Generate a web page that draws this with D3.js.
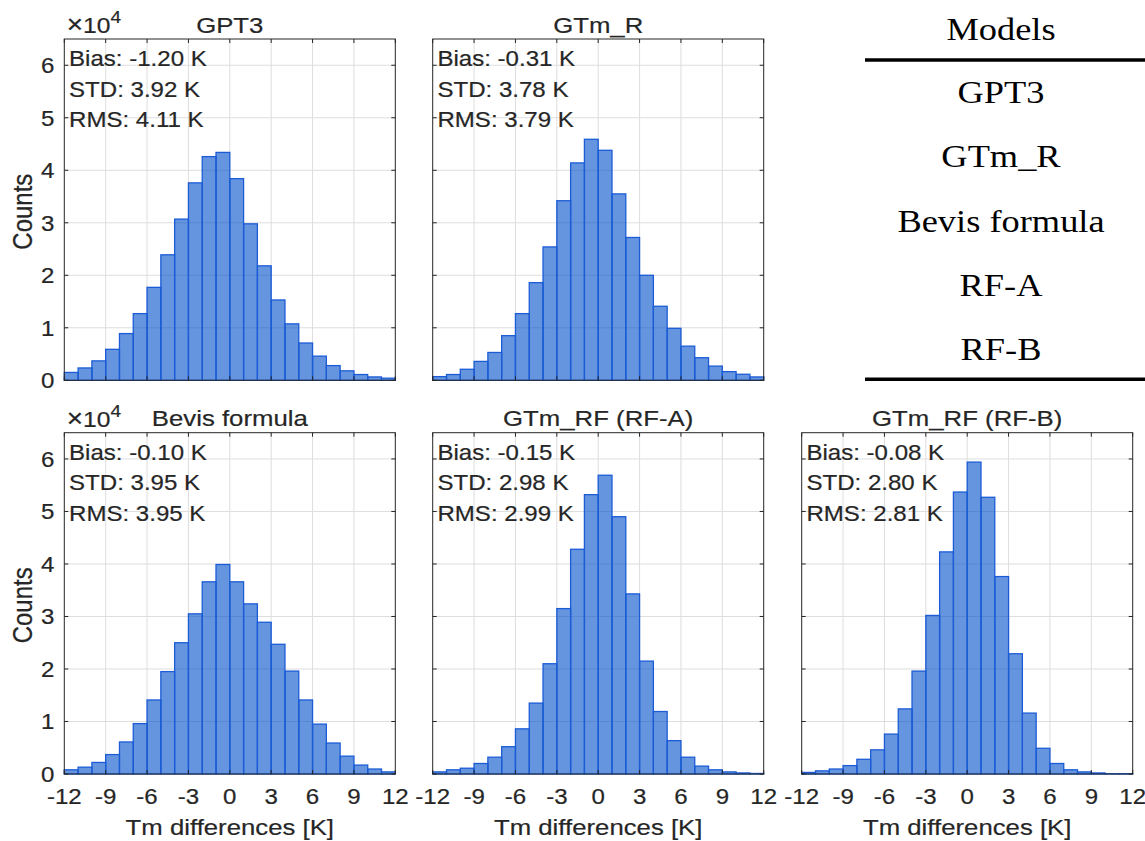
<!DOCTYPE html>
<html><head><meta charset="utf-8">
<script src="https://cdn.jsdelivr.net/npm/d3@7"></script>
<style>body{margin:0;background:#fff} svg{display:block}</style>
</head><body>
<svg id="c" width="1145" height="841"></svg>
<script>
// ---- data (counts in units of 10^4) ----
const binStarts = [-12,-11,-10,-9,-8,-7,-6,-5,-4,-3,-2,-1,0,1,2,3,4,5,6,7,8,9,10,11];
const binWidth = 1;
const xTicks = [-12,-9,-6,-3,0,3,6,9,12];
const xTickLabels = ["-12","-9","-6","-3","0","3","6","9","12"];
const yTicks = [0,1,2,3,4,5,6];
const yTickLabels = ["0","1","2","3","4","5","6"];
const titles = ["GPT3","GTm_R","Bevis formula","GTm_RF (RF-A)","GTm_RF (RF-B)"];
const gpt3  = [0.15,0.235,0.37,0.59,0.89,1.27,1.77,2.39,3.07,3.76,4.26,4.34,3.84,2.98,2.18,1.53,1.075,0.71,0.46,0.28,0.18,0.11,0.064,0.04];
const gtmR  = [0.07,0.11,0.21,0.36,0.53,0.85,1.27,1.86,2.54,3.42,4.14,4.59,4.38,3.55,2.72,2.00,1.41,0.99,0.65,0.43,0.27,0.165,0.115,0.064];
const bevis = [0.08,0.13,0.22,0.37,0.61,0.96,1.41,1.95,2.50,3.05,3.66,3.99,3.66,3.24,2.89,2.47,1.96,1.41,0.95,0.59,0.34,0.17,0.095,0.04];
const rfA   = [0.04,0.08,0.11,0.20,0.32,0.52,0.86,1.35,2.10,3.15,4.28,5.32,5.69,4.90,3.43,2.15,1.19,0.635,0.32,0.15,0.08,0.04,0.02,0.01];
const rfB   = [0.03,0.06,0.095,0.16,0.28,0.46,0.76,1.24,1.96,3.02,4.23,5.37,5.94,5.27,3.76,2.29,1.16,0.49,0.20,0.08,0.04,0.02,0.006,0.006];
const biasVals = ["-1.20","-0.31","-0.10","-0.15","-0.08"];
const stdVals  = ["3.92","3.78","3.95","2.98","2.80"];
const rmsVals  = ["4.11","3.79","3.95","2.99","2.81"];
const tableHeader = "Models";
const tableRows = ["GPT3","GTm_R","Bevis formula","RF-A","RF-B"];

// ---- layout ----
const SX = 1.12;
const SANS = "'Liberation Sans', Arial, Helvetica, sans-serif";
const SERIF = "'Liberation Serif', 'Times New Roman', serif";
const colLeft = [64.3, 432.7, 801.7];
const rowTop = [39, 432.7];
const PW = 331, PH = 341.3;
const panels = [
  {data: gpt3,  col: 0, row: 0},
  {data: gtmR,  col: 1, row: 0},
  {data: bevis, col: 0, row: 1},
  {data: rfA,   col: 1, row: 1},
  {data: rfB,   col: 2, row: 1}
];
const svg = d3.select("#c");

function txt(g, x, y, str, size, anchor, family, extra) {
  const serif = family === SERIF;
  const col = serif ? "#000" : "#262626";
  const t = g.append("text")
    .attr("transform", `translate(${x},${y}) scale(${SX},1)` + (extra || ""))
    .attr("text-anchor", anchor)
    .style("font-family", family || SANS)
    .style("font-size", size + "px")
    .attr("fill", col)
    .text(str);
  if (!serif) t.attr("stroke", col).attr("stroke-width", 0.2);
  return t;
}

panels.forEach((p, i) => {
  const L = colLeft[p.col], T = rowTop[p.row];
  const x = d3.scaleLinear().domain([-12, 12]).range([L, L + PW]);
  const y = d3.scaleLinear().domain([0, 6.5]).range([T + PH, T]);
  const g = svg.append("g");

  // grid
  g.selectAll(".gx").data(xTicks.slice(1, -1)).join("line")
    .attr("x1", d => x(d)).attr("x2", d => x(d)).attr("y1", T).attr("y2", T + PH)
    .attr("stroke", "#dedede").attr("stroke-width", 1);
  g.selectAll(".gy").data(yTicks.slice(1)).join("line")
    .attr("x1", L).attr("x2", L + PW).attr("y1", d => y(d)).attr("y2", d => y(d))
    .attr("stroke", "#dedede").attr("stroke-width", 1);

  // bars
  g.selectAll(".bar").data(p.data).join("rect")
    .attr("x", (d, k) => x(binStarts[k]))
    .attr("width", (d, k) => x(binStarts[k] + binWidth) - x(binStarts[k]))
    .attr("y", d => y(d))
    .attr("height", d => y(0) - y(d))
    .attr("fill", "rgb(0,78,203)").attr("fill-opacity", 0.6)
    .attr("stroke", "#1b5cd6").attr("stroke-width", 1.3);

  // box
  g.append("rect").attr("x", L).attr("y", T).attr("width", PW).attr("height", PH)
    .attr("fill", "none").attr("stroke", "#262626").attr("stroke-width", 1);

  // ticks (inward, all sides)
  const tl = 4;
  g.selectAll(".tb").data(xTicks).join("line")
    .attr("x1", d => x(d)).attr("x2", d => x(d)).attr("y1", T + PH).attr("y2", T + PH - tl)
    .attr("stroke", "#262626");
  g.selectAll(".tt").data(xTicks).join("line")
    .attr("x1", d => x(d)).attr("x2", d => x(d)).attr("y1", T).attr("y2", T + tl)
    .attr("stroke", "#262626");
  g.selectAll(".tl").data(yTicks).join("line")
    .attr("x1", L).attr("x2", L + tl).attr("y1", d => y(d)).attr("y2", d => y(d))
    .attr("stroke", "#262626");
  g.selectAll(".tr").data(yTicks).join("line")
    .attr("x1", L + PW).attr("x2", L + PW - tl).attr("y1", d => y(d)).attr("y2", d => y(d))
    .attr("stroke", "#262626");

  // y tick labels and exponent
  if (p.col === 0) {
    yTicks.forEach((v, k) => {
      txt(g, L - 10, y(v) + 7.8, yTickLabels[k], 21.5, "end");
    });
    const ex = g.append("text")
      .attr("transform", `translate(${L + 2.4},${T - 5.7}) scale(${SX},1)`)
      .attr("text-anchor", "start")
      .style("font-family", SANS).style("font-size", "22px")
      .attr("fill", "#262626").attr("stroke", "#262626").attr("stroke-width", 0.2);
    ex.append("tspan").style("font-size", "25px").text("\u00d7");
    ex.append("tspan").text("10");
    ex.append("tspan").attr("dy", -10).style("font-size", "17px").text("4");
    txt(g, 32, T + PH / 2 + 2, "Counts", 24, "middle", SANS, " rotate(-90)");
  }
  // x tick labels
  if (p.row === 1) {
    xTicks.forEach((v, k) => {
      txt(g, x(v), T + PH + 29.5, xTickLabels[k], 21.5, "middle");
    });
    txt(g, L + PW / 2, 835, "Tm differences [K]", 23, "middle");
  }
  // title
  txt(g, L + PW / 2, T - 6.3, titles[i], 23, "middle");
  // stats
  txt(g, L + 4.7, T + 27, "Bias: " + biasVals[i] + " K", 21.5, "start");
  txt(g, L + 4.7, T + 57.5, "STD: " + stdVals[i] + " K", 21.5, "start");
  txt(g, L + 4.7, T + 88, "RMS: " + rmsVals[i] + " K", 21.5, "start");
});

// ---- table ----
const tg = svg.append("g");
const tcx = 1001;
txt(tg, tcx, 39.5, tableHeader, 32.5, "middle", SERIF);
tg.append("line").attr("x1", 865).attr("x2", 1145).attr("y1", 60).attr("y2", 60)
  .attr("stroke", "#000").attr("stroke-width", 3.5);
tableRows.forEach((r, k) => {
  txt(tg, tcx, 103 + k * 64.25, r, 32.5, "middle", SERIF);
});
tg.append("line").attr("x1", 865).attr("x2", 1145).attr("y1", 379.3).attr("y2", 379.3)
  .attr("stroke", "#000").attr("stroke-width", 3.5);
</script>
</body></html>
